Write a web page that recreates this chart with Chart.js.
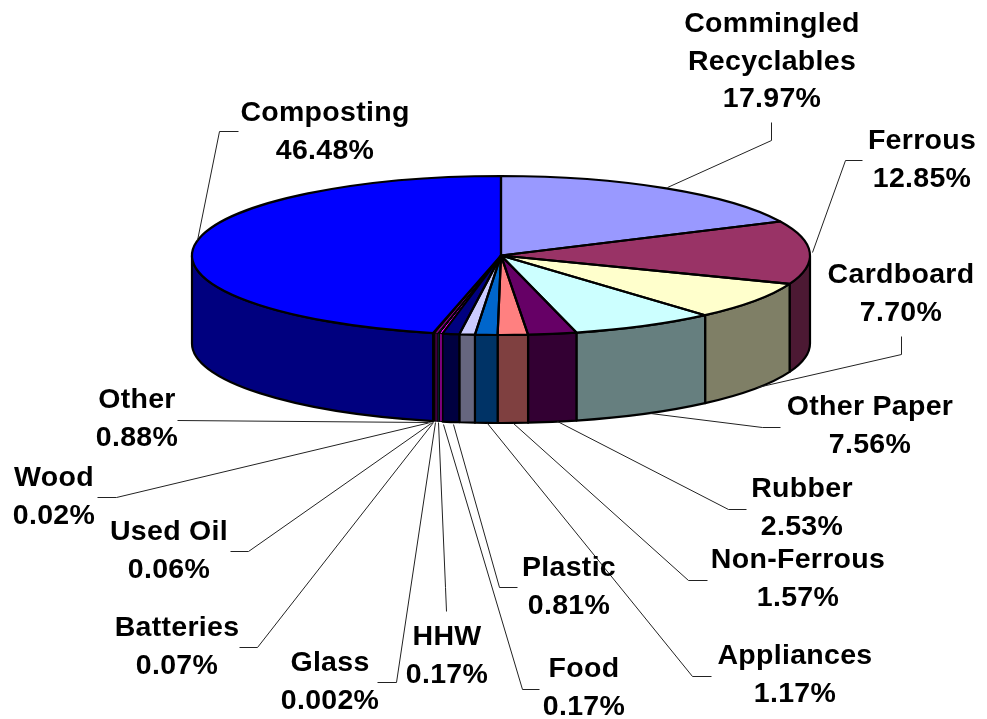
<!DOCTYPE html>
<html>
<head>
<meta charset="utf-8">
<style>html,body{margin:0;padding:0;background:#fff}canvas{display:block}</style>
<script src="https://cdn.jsdelivr.net/npm/chart.js@4/dist/chart.umd.min.js"></script>
</head>
<body>
<canvas id="c" width="987" height="719"></canvas>
<script>
const categories = ["Commingled Recyclables","Ferrous","Cardboard","Other Paper","Rubber","Non-Ferrous","Appliances","Plastic","Other","HHW","Glass","Batteries","Food","Used Oil","Wood","Composting"];
const values = [17.97,12.85,7.70,7.56,2.53,1.57,1.17,0.81,0.88,0.17,0.002,0.07,0.17,0.06,0.02,46.48];
const colors = ["#9999FF","#993366","#FFFFCC","#CCFFFF","#660066","#FF8080","#0066CC","#CCCCFF","#000080","#FF00FF","#FFFF00","#00FFFF","#800080","#800000","#008080","#0000FF"];
const labelLines = [["Commingled","Recyclables"],["Ferrous"],["Cardboard"],["Other Paper"],["Rubber"],["Non-Ferrous"],["Appliances"],["Plastic"],["Other"],["HHW"],["Glass"],["Batteries"],["Food"],["Used Oil"],["Wood"],["Composting"]];
const labelCentreX = [772,922,901,870,802,798,795,569,137,447,330,177,584,169,54,325];
const labelFirstBaseline = [32,149,283,415,497,568,664,576,408,645,671,636,677,540,486,121];
const leaderPaths = [
 [[771,122],[771,140],[667,187]],
 [[862,160],[845,160],[812,252]],
 [[901,336],[901,354],[757,387]],
 [[780,427],[762,427],[650,413]],
 [[746,509],[728,509],[557,421]],
 [[707,580],[688,580],[513,423]],
 [[711,676],[692,676],[487,423]],
 [[517,587],[499,587],[453,424]],
 [[177,420],[428,422]],
 [[446,611],[445,587],[438,422]],
 [[377,682],[396,682],[435,422]],
 [[239,647],[257,647],[433,422]],
 [[539,689],[522,689],[443,424]],
 [[230,551],[248,551],[432,422]],
 [[97,497],[116,497],[430,422]],
 [[238,131],[219,131],[197,240]]
];
const PIE_CY = 255.5, PIE_RY = 79.5, WALL = 88;
function halve(hex){
  const n = parseInt(hex.slice(1),16);
  const p = v => Math.floor(v/2).toString(16).padStart(2,"0");
  return "#"+p(n>>16&255)+p(n>>8&255)+p(n&255);
}
function pct(v){ return (v<0.01 ? v.toFixed(3) : v.toFixed(2))+"%"; }
const strokeFor = i => values[i] < 0.5 ? 1 : 2.2;
const pie3d = {
  id:"pie3d",
  beforeDatasetsDraw(chart){
    const ctx = chart.ctx, arcs = chart.getDatasetMeta(0).data;
    ctx.save();
    ctx.lineJoin = "round"; ctx.strokeStyle = "#000";
    const order = arcs.map((a,i)=>i).sort((p,q)=>strokeFor(q)-strokeFor(p));
    order.forEach(i=>{
      const a = arcs[i];
      const s = Math.max(a.startAngle,0), e = Math.min(a.endAngle,Math.PI);
      if(e<=s) return;
      const R = a.outerRadius;
      ctx.lineWidth = strokeFor(i);
      ctx.beginPath();
      ctx.ellipse(a.x,PIE_CY,R,PIE_RY,0,s,e);
      ctx.ellipse(a.x,PIE_CY+WALL,R,PIE_RY,0,e,s,true);
      ctx.closePath();
      ctx.fillStyle = halve(colors[i]);
      ctx.fill(); ctx.stroke();
    });
    ctx.restore();
    const a0 = arcs[0];
    ctx.save();
    ctx.translate(0,PIE_CY);
    ctx.scale(1,PIE_RY/a0.outerRadius);
    ctx.translate(0,-a0.y);
  },
  afterDatasetsDraw(chart){
    const ctx = chart.ctx, arcs = chart.getDatasetMeta(0).data;
    ctx.restore();
    ctx.save();
    ctx.lineJoin = "round"; ctx.strokeStyle = "#000";
    arcs.forEach((a,i)=>{
      ctx.lineWidth = strokeFor(i);
      ctx.beginPath();
      ctx.moveTo(a.x,PIE_CY);
      ctx.ellipse(a.x,PIE_CY,a.outerRadius,PIE_RY,0,a.startAngle,a.endAngle);
      ctx.closePath();
      ctx.stroke();
    });
    ctx.lineWidth = 1; ctx.strokeStyle = "#222";
    leaderPaths.forEach(p=>{
      ctx.beginPath();
      p.forEach((q,i)=> i ? ctx.lineTo(q[0]+.5,q[1]+.5) : ctx.moveTo(q[0]+.5,q[1]+.5));
      ctx.stroke();
    });
    ctx.fillStyle = "#000";
    ctx.font = "bold 28.5px 'Liberation Sans', Arial, sans-serif";
    ctx.letterSpacing = "0.3px";
    ctx.textAlign = "center"; ctx.textBaseline = "alphabetic";
    categories.forEach((c,i)=>{
      const lines = labelLines[i].concat([pct(values[i])]);
      lines.forEach((t,j)=> ctx.fillText(t,labelCentreX[i],labelFirstBaseline[i]+j*37.5));
    });
    ctx.restore();
  }
};
new Chart(document.getElementById("c"),{
  type:"pie",
  data:{labels:categories,datasets:[{data:values,backgroundColor:colors,borderWidth:0,clip:false}]},
  options:{
    responsive:false,animation:false,
    layout:{padding:{left:192,right:177,top:50,bottom:51}},
    plugins:{legend:{display:false},tooltip:{enabled:false},title:{display:false}}
  },
  plugins:[pie3d]
});
</script>
</body>
</html>
